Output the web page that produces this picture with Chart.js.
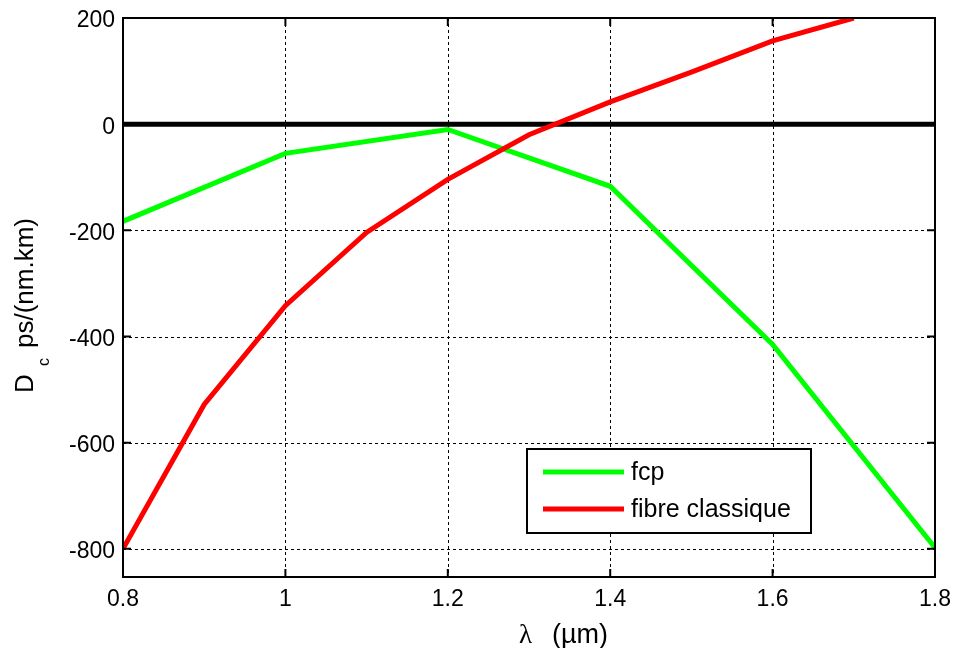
<!DOCTYPE html>
<html>
<head>
<meta charset="utf-8">
<script src="https://cdn.jsdelivr.net/npm/chart.js@4/dist/chart.umd.min.js"></script>
<style>
html,body{margin:0;padding:0;background:#fff;}
#wrap{width:956px;height:648px;position:relative;}
</style>
</head>
<body>
<div id="wrap"><canvas id="c"></canvas></div>
<script>
// ---- data ----
const lambdaFcp = [0.8, 1.0, 1.2, 1.4, 1.6, 1.8];
const dFcp = [-183, -55, -10, -117, -415, -798];
const lambdaClassique = [0.8, 0.9, 1.0, 1.1, 1.2, 1.3, 1.4, 1.5, 1.6, 1.7];
const dClassique = [-800, -528, -342, -204, -104, -20, 42, 98, 157, 200];
const zeroLine = [0.8, 1.8];
const xTicks = [0.8, 1, 1.2, 1.4, 1.6, 1.8];
const yTicks = [-800, -600, -400, -200, 0, 200];
const seriesLabels = ['fcp', 'fibre classique'];
const xTitleSymbol = 'λ';
const xTitleUnit = '(µm)';
const yTitleMain = 'D';
const yTitleSub = 'c';
const yTitleUnit = 'ps/(nm.km)';

const SANS = '"Liberation Sans", Arial, Helvetica, sans-serif';
const SERIF = '"Liberation Serif", "Times New Roman", serif';

const toPts = (xs, ys) => xs.map((x, i) => ({x: x, y: ys[i]}));

const framePlugin = {
  id: 'frame',
  beforeDatasetsDraw(chart) {
    const {ctx, chartArea: {left, right, top, bottom}, scales: {x, y}} = chart;
    ctx.save();
    ctx.setLineDash([3, 3]);
    ctx.lineWidth = 1;
    ctx.strokeStyle = '#000';
    xTicks.forEach(v => {
      const px = Math.round(x.getPixelForValue(v)) + 0.5;
      if (px < left + 2 || px > right - 2) return;
      ctx.beginPath(); ctx.moveTo(px, top); ctx.lineTo(px, bottom); ctx.stroke();
    });
    yTicks.forEach(v => {
      const py = Math.round(y.getPixelForValue(v)) + 0.5;
      if (py < top + 2 || py > bottom - 2) return;
      ctx.beginPath(); ctx.moveTo(left, py); ctx.lineTo(right, py); ctx.stroke();
    });
    ctx.restore();
  },
  afterDatasetsDraw(chart) {
    const {ctx, chartArea: {left, right, top, bottom}, scales: {x, y}} = chart;
    ctx.save();
    ctx.strokeStyle = '#000';
    ctx.lineWidth = 2;
    ctx.setLineDash([]);
    ctx.strokeRect(left, top, right - left, bottom - top);
    const tl = 8;
    xTicks.forEach(v => {
      const px = x.getPixelForValue(v);
      ctx.beginPath();
      ctx.moveTo(px, bottom); ctx.lineTo(px, bottom - tl);
      ctx.moveTo(px, top); ctx.lineTo(px, top + tl);
      ctx.stroke();
    });
    yTicks.forEach(v => {
      const py = y.getPixelForValue(v);
      ctx.beginPath();
      ctx.moveTo(left, py); ctx.lineTo(left + tl, py);
      ctx.moveTo(right, py); ctx.lineTo(right - tl, py);
      ctx.stroke();
    });
    ctx.restore();
  },
  afterDraw(chart) {
    const {ctx} = chart;
    ctx.save();
    // legend
    const bx = 527, by = 449, bw = 284, bh = 84;
    ctx.fillStyle = '#fff';
    ctx.fillRect(bx, by, bw, bh);
    ctx.strokeStyle = '#000';
    ctx.lineWidth = 2;
    ctx.strokeRect(bx, by, bw, bh);
    const rows = [472, 509];
    seriesLabels.forEach((lab, i) => {
      const ds = chart.data.datasets.find(d => d.label === lab);
      ctx.strokeStyle = ds.borderColor;
      ctx.lineWidth = 5;
      ctx.beginPath(); ctx.moveTo(543, rows[i]); ctx.lineTo(624, rows[i]); ctx.stroke();
      ctx.fillStyle = '#000';
      ctx.font = '25px ' + SANS;
      ctx.textBaseline = 'middle';
      ctx.textAlign = 'left';
      ctx.fillText(lab, 631, rows[i] + 1);
    });
    // x title
    ctx.fillStyle = '#000';
    ctx.textBaseline = 'alphabetic';
    ctx.textAlign = 'left';
    ctx.font = '27px ' + SERIF;
    ctx.fillText(xTitleSymbol, 519, 643);
    ctx.font = '27px ' + SANS;
    ctx.fillText(xTitleUnit, 552, 643);
    // y title (rotated, with subscript)
    ctx.translate(33, 393);
    ctx.rotate(-Math.PI / 2);
    ctx.font = '26px ' + SANS;
    ctx.fillText(yTitleMain, 0, 0);
    ctx.font = '16px ' + SANS;
    ctx.fillText(yTitleSub, 27, 16);
    ctx.font = '26px ' + SANS;
    ctx.fillText(yTitleUnit, 45, 0);
    ctx.restore();
  }
};

new Chart(document.getElementById('c'), {
  type: 'line',
  data: {
    datasets: [
      {label: seriesLabels[0], data: toPts(lambdaFcp, dFcp), borderColor: '#00ff00', borderWidth: 5, pointRadius: 0, tension: 0, order: 1},
      {label: seriesLabels[1], data: toPts(lambdaClassique, dClassique), borderColor: '#ff0000', borderWidth: 5, pointRadius: 0, tension: 0, order: 0},
      {label: 'zero', data: toPts(zeroLine, [0, 0]), borderColor: '#000000', borderWidth: 5, pointRadius: 0, tension: 0, order: 2}
    ]
  },
  options: {
    responsive: true,
    maintainAspectRatio: false,
    animation: false,
    events: [],
    layout: {padding: {top: 18, right: 21, left: 0, bottom: 0}},
    plugins: {legend: {display: false}, tooltip: {enabled: false}},
    scales: {
      x: {
        type: 'linear',
        min: 0.8, max: 1.8,
        grid: {display: false, drawTicks: false},
        border: {display: false},
        afterBuildTicks: s => { s.ticks = xTicks.map(v => ({value: v})); },
        afterFit: s => { s.height = 71; s.paddingLeft = 0; s.paddingRight = 0; s.paddingTop = 0; s.paddingBottom = 0; },
        ticks: {
          color: '#000', padding: 9, maxRotation: 0, autoSkip: false,
          font: {family: SANS, size: 23, lineHeight: 1.2},
          callback: v => String(v)
        }
      },
      y: {
        type: 'linear',
        min: -853, max: 200,
        grid: {display: false, drawTicks: false},
        border: {display: false},
        afterBuildTicks: s => { s.ticks = yTicks.map(v => ({value: v})); },
        afterFit: s => { s.width = 123; s.paddingLeft = 0; s.paddingRight = 0; s.paddingTop = 0; s.paddingBottom = 0; },
        ticks: {
          color: '#000', padding: 8, labelOffset: 3, autoSkip: false,
          font: {family: SANS, size: 23},
          callback: v => String(v)
        }
      }
    }
  },
  plugins: [framePlugin]
});
</script>
</body>
</html>
